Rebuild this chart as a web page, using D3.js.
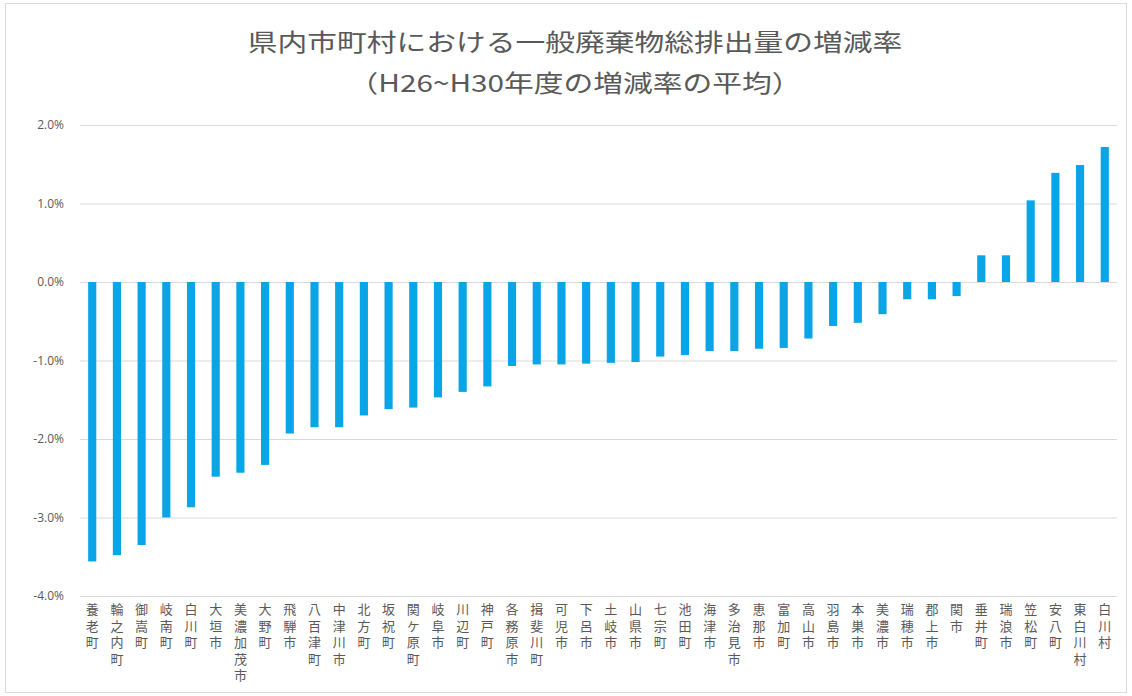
<!DOCTYPE html>
<html>
<head>
<meta charset="utf-8">
<script src="https://cdn.jsdelivr.net/npm/d3@7"></script>
<style>
  html, body { margin: 0; padding: 0; background: #fff; }
  svg text { font-family: "Noto Sans CJK JP", "Noto Sans", sans-serif; fill: #595959; }
</style>
</head>
<body>
<svg id="chart" width="1132" height="696"></svg>
<script>
// Municipalities, sorted by average change rate (H26–H30)
const municipalities = [
  "養老町","輪之内町","御嵩町","岐南町","白川町","大垣市","美濃加茂市","大野町","飛騨市","八百津町",
  "中津川市","北方町","坂祝町","関ケ原町","岐阜市","川辺町","神戸町","各務原市","揖斐川町","可児市",
  "下呂市","土岐市","山県市","七宗町","池田町","海津市","多治見市","恵那市","富加町","高山市",
  "羽島市","本巣市","美濃市","瑞穂市","郡上市","関市","垂井町","瑞浪市","笠松町","安八町",
  "東白川村","白川村"
];
// Average change rate of total general waste (%)
const changeRates = [
  -3.56,-3.48,-3.35,-3.00,-2.87,-2.48,-2.43,-2.33,-1.93,-1.85,
  -1.85,-1.70,-1.62,-1.60,-1.47,-1.40,-1.33,-1.07,-1.05,-1.05,
  -1.04,-1.03,-1.02,-0.95,-0.93,-0.88,-0.88,-0.85,-0.84,-0.72,
  -0.56,-0.52,-0.41,-0.22,-0.22,-0.18,0.34,0.34,1.04,1.39,
  1.49,1.72
];
const yTicks = [2, 1, 0, -1, -2, -3, -4];
const titleLines = ["県内市町村における一般廃棄物総排出量の増減率", "（H26~H30年度の増減率の平均）"];

const svg = d3.select("#chart");
const W = 1132, H = 696;
const plot = { left: 80, right: 1117, top: 125, bottom: 596 };

// chart frame
svg.append("rect")
  .attr("x", 5.5).attr("y", 3.5).attr("width", W - 11).attr("height", H - 7)
  .attr("fill", "#fff").attr("stroke", "#d9d9d9").attr("stroke-width", 1);

const x = d3.scaleBand().domain(municipalities).range([plot.left, plot.right]).paddingInner(0.67).paddingOuter(0.33);
const y = d3.scaleLinear().domain([-4, 2]).range([plot.bottom, plot.top]);

// gridlines and tick labels
const yAxis = d3.axisLeft(y).tickValues(yTicks)
  .tickFormat(d => d.toFixed(1) + "%")
  .tickSize(-(plot.right - plot.left)).tickPadding(16);
const gy = svg.append("g").attr("transform", `translate(${plot.left},0)`).call(yAxis);
gy.select(".domain").remove();
gy.selectAll(".tick line").attr("stroke", "#d9d9d9").attr("stroke-width", 1);
gy.selectAll(".tick text").attr("font-size", 12).attr("fill", "#595959")
  .style("font-family", "'Open Sans', sans-serif");

// bars
svg.append("g").selectAll("rect")
  .data(changeRates)
  .join("rect")
  .attr("x", (d, i) => x(municipalities[i]))
  .attr("width", x.bandwidth())
  .attr("y", d => y(Math.max(0, d)))
  .attr("height", d => Math.abs(y(d) - y(0)))
  .attr("fill", "#0AA5E6");

// vertical category labels
svg.append("g").selectAll("text")
  .data(municipalities)
  .join("text")
  .attr("x", d => x(d) + x.bandwidth() / 2)
  .attr("y", 603)
  .attr("font-size", 13)
  .style("writing-mode", "vertical-rl")
  .style("letter-spacing", "3.5px")
  .text(d => d);

// title (set slightly wide)
svg.append("g").selectAll("text")
  .data(titleLines)
  .join("text")
  .attr("transform", (d, i) => `translate(575,${51 + i * 41}) scale(1.24,1)`)
  .attr("text-anchor", "middle")
  .attr("font-size", 24)
  .text(d => d);
</script>
</body>
</html>
